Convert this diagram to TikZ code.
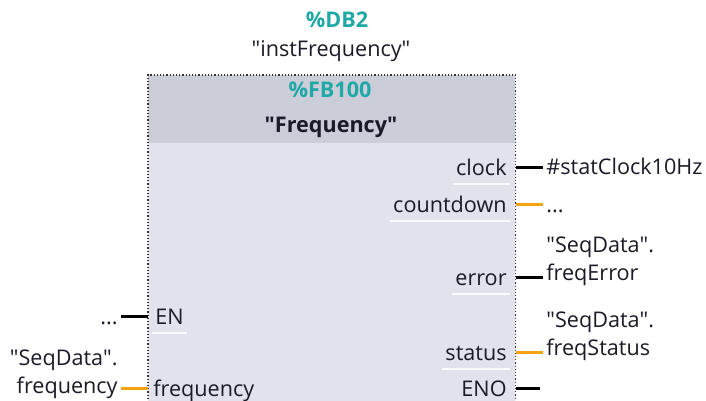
\documentclass[tikz,border=0pt]{standalone}
\usepackage{fontspec}
\setmainfont{Open Sans}
\usetikzlibrary{positioning}

\definecolor{tiateal}{HTML}{1FA9A6}
\definecolor{tiahead}{HTML}{CBCDD9}
\definecolor{tiabody}{HTML}{E1E2EB}
\definecolor{tiaorange}{HTML}{F5A312}
\definecolor{tiatext}{HTML}{1A1A28}

\newcommand{\dq}{\textquotedbl}

\tikzset{
  txt/.style={font=\fontsize{10.8}{14}\selectfont, text=tiatext, inner sep=1.5pt,
    text height=9.5pt, text depth=1pt},
  multi/.style={font=\fontsize{10.8}{14}\selectfont, text=tiatext, inner sep=1.5pt},
  tealtxt/.style={txt, text=tiateal, font=\fontsize{10.8}{14}\selectfont\bfseries},
  pinR/.style={txt, anchor=east},
  pinL/.style={txt, anchor=west},
  wire/.style={line width=1.5pt, black},
  owire/.style={line width=1.5pt, tiaorange},
  sep/.style={white!85!tiabody, line width=0.7pt},
}

\begin{document}
\begin{tikzpicture}[x=0.5pt, y=-0.5pt]
\useasboundingbox (0,0) rectangle (706,401);

% block body and header
\node[fill=tiabody, draw=none, inner sep=0, anchor=north west,
  minimum width=183.5pt, minimum height=200pt] (fb) at (148,75) {};
\node[fill=tiahead, draw=none, inner sep=0, anchor=north west,
  minimum width=183.5pt, minimum height=34pt] (hdr) at (fb.north west) {};
\draw[gray!40!black, densely dotted, line width=0.6pt]
  (fb.south west) -- (fb.north west) -- (fb.north east) -- (fb.south east);

% instance and block names
\node[tealtxt] (db) at (337,19) {\%DB2};
\node[txt] (inst) at (331,48) {\dq instFrequency\dq};
\node[tealtxt] (fbno) at (330,89) {\%FB100};
\node[txt, font=\fontsize{10.8}{14}\selectfont\bfseries] (fbname) at (331,124) {\dq Frequency\dq};

% output pins
\node[pinR] (pclock) at (510,167) {clock};
\node[pinR] (pcount) at (510,204) {countdown};
\node[pinR] (perror) at (510,277) {error};
\node[pinR] (pstatus) at (510,352) {status};
\node[pinR] (peno) at (510,388) {ENO};

% input pins
\node[pinL] (pen) at (152,316) {EN};
\node[pinL] (pfreq) at (150,388) {frequency};

% separators
\foreach \p in {pclock, pcount, perror, pstatus, pen} {
  \draw[sep] ([yshift=-1.5pt]\p.south west) -- ([yshift=-1.5pt]\p.south east);
}

% actual parameters
\node[txt, anchor=west] (vclock) at (543,166) {\#statClock10Hz};
\node[txt, anchor=west] (vcount) at (543,204) {...};
\node[multi, anchor=west, align=left] (verror) at (543,261) {\dq SeqData\dq.\\freqError};
\node[multi, anchor=west, align=left] (vstatus) at (543,336) {\dq SeqData\dq.\\freqStatus};
\node[txt, anchor=east] (ven) at (121,316) {...};
\node[multi, anchor=east, align=right] (vfreq) at (121,374) {\dq SeqData\dq.\\frequency};
\coordinate (eno) at (540,388);

% wires
\draw[wire] (fb.east |- pclock) -- (vclock.west |- pclock);
\draw[owire] (fb.east |- pcount) -- (vcount.west |- pcount);
\draw[wire] (fb.east |- perror) -- (verror.west |- perror);
\draw[owire] (fb.east |- pstatus) -- (vstatus.west |- pstatus);
\draw[wire] (fb.east |- peno) -- (eno);
\draw[wire] (fb.west |- pen) -- (ven.east |- pen);
\draw[owire] (fb.west |- pfreq) -- (vfreq.east |- pfreq);
\end{tikzpicture}
\end{document}
